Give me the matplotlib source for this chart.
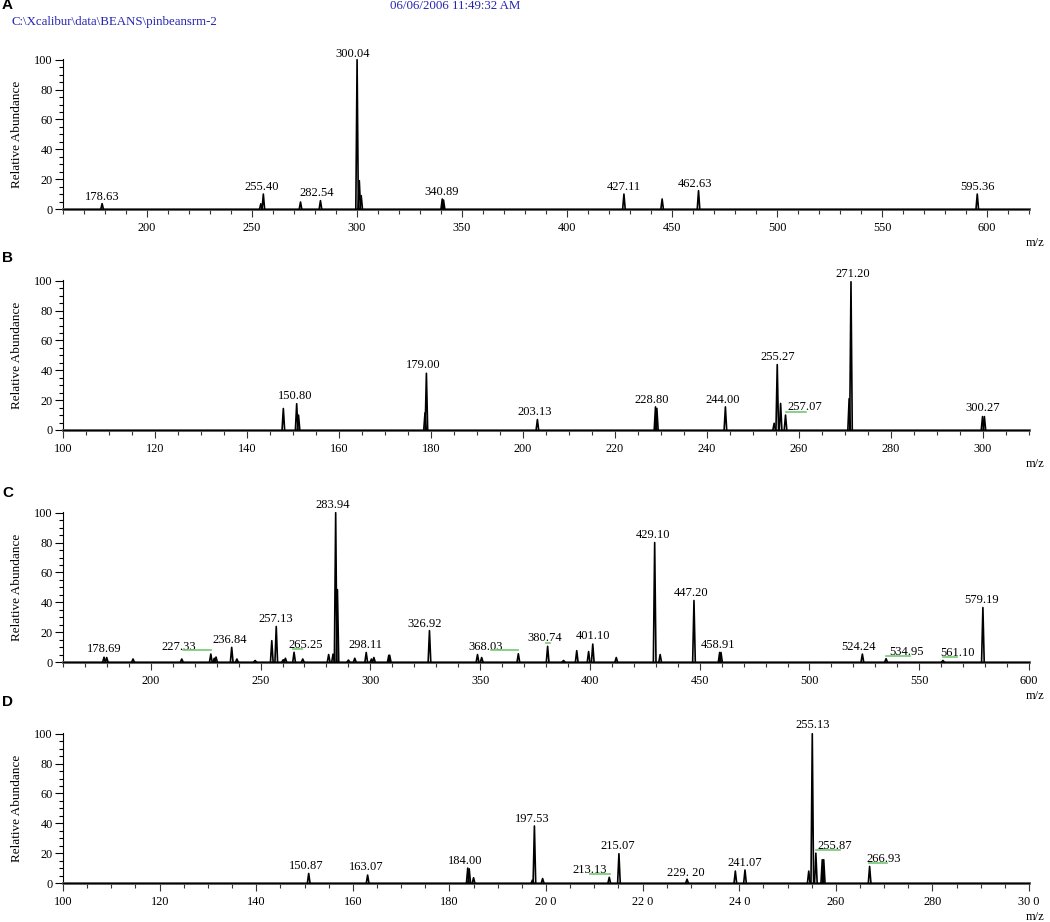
import numpy as np
import matplotlib.pyplot as plt
from matplotlib.ticker import MultipleLocator, FixedLocator

plt.rcParams['font.family'] = ['Liberation Serif', 'DejaVu Serif']

# ---------------- panel A ----------------
mz_a = [178.63, 254.2, 255.40, 273.1, 282.6, 300.04, 301.1, 302.0, 340.6, 341.2,
        427.11, 445.3, 462.63, 595.36]
int_a = [3.6, 3.5, 10.0, 4.7, 5.6, 100.0, 19.0, 9.0, 6.7, 6.0,
         10.0, 6.7, 12.3, 10.0]
lab_a = ['178.63', '255.40', '282.54', '300.04', '340.89', '427.11', '462.63', '595.36']
lab_x_a = [178.6, 254.5, 281.0, 297.8, 340.4, 427.0, 460.8, 595.3]
lab_y_a = [6.0, 13.0, 8.5, 102.0, 9.6, 12.5, 14.7, 12.5]
green_a = []

# ---------------- panel B ----------------
mz_b = [147.9, 150.8, 151.2, 178.7, 179.0, 203.13, 228.8, 229.1, 244.0, 254.6,
        255.27, 256.0, 257.07, 270.9, 271.3, 299.9, 300.3]
int_b = [14.4, 17.6, 10.0, 11.5, 38.0, 7.0, 15.5, 14.5, 15.5, 4.5,
         43.8, 17.8, 10.0, 21.0, 99.3, 9.0, 9.0]
lab_b = ['150.80', '179.00', '203.13', '228.80', '244.00', '255.27', '257.07', '271.20', '300.27']
lab_x_b = [150.4, 178.4, 202.5, 228.0, 243.4, 255.4, 261.3, 271.6, 300.0]
lab_y_b = [21.0, 41.5, 10.0, 18.4, 18.4, 46.7, 13.3, 102.7, 12.7]
green_b = [(257.2, 261.5, 12.2)]

# ---------------- panel C ----------------
mz_c = [178.69, 179.9, 191.9, 214.1, 227.33, 228.9, 229.7, 236.84, 239.2, 247.5,
        255.1, 257.13, 260.3, 261.3, 265.25, 269.2, 281.0, 283.0, 284.2, 285.0,
        290.0, 292.9, 298.11, 300.5, 301.6, 308.4, 308.8, 326.92, 348.8, 350.7,
        367.4, 380.74, 388.0, 394.0, 399.4, 401.3, 412.0, 429.5, 432.0, 447.4,
        459.1, 459.7, 524.1, 534.9, 560.8, 579.0]
int_c = [3.2, 3.0, 2.0, 2.0, 5.3, 2.5, 3.3, 9.8, 2.0, 1.0,
         14.3, 23.8, 1.5, 2.5, 6.5, 2.0, 5.0, 5.3, 100.0, 48.5,
         1.3, 2.5, 6.4, 2.0, 3.0, 4.5, 4.5, 21.0, 5.0, 3.0,
         5.5, 10.5, 1.0, 7.6, 7.0, 12.0, 3.0, 80.0, 5.0, 41.2,
         6.4, 6.4, 5.3, 2.2, 1.0, 36.5]
lab_c = ['178.69', '227.33', '236.84', '257.13', '265.25', '283.94', '298.11', '326.92',
         '368.03', '380.74', '401.10', '429.10', '447.20', '458.91', '524.24', '534.95',
         '561.10', '579.19']
lab_x_c = [178.6, 212.5, 235.7, 257.1, 270.5, 282.7, 297.6, 324.8,
           352.7, 379.3, 401.3, 428.6, 446.0, 458.4, 522.2, 544.4,
           567.5, 578.3]
lab_y_c = [6.5, 8.2, 12.7, 26.7, 9.4, 103.0, 9.4, 23.4,
           8.2, 13.8, 15.4, 82.9, 43.9, 9.4, 7.8, 4.9,
           4.2, 39.4]
green_c = [(214.6, 227.2, 7.8), (264.8, 268.9, 8.9), (354.8, 367.4, 7.8),
           (380.2, 382.0, 13.0), (534.9, 546.0, 4.2), (560.8, 567.1, 3.1)]

# ---------------- panel D ----------------
mz_d = [150.87, 163.07, 183.8, 184.1, 185.0, 197.2, 197.6, 199.3, 213.1, 215.1,
        229.2, 239.2, 241.2, 254.4, 255.13, 255.87, 257.2, 257.5, 267.0]
int_d = [6.4, 5.3, 10.0, 9.5, 3.5, 2.0, 38.2, 3.0, 3.8, 19.6,
         2.5, 8.0, 8.7, 8.0, 100.0, 20.0, 15.6, 15.6, 11.1]
lab_d = ['150.87', '163.07', '184.00', '197.53', '213.13', '215.07', '229. 20', '241.07',
         '255.13', '255.87', '266.93']
lab_x_d = [150.3, 162.7, 183.3, 197.2, 209.0, 214.9, 229.0, 241.2,
           255.2, 259.8, 270.0]
lab_y_d = [9.1, 8.7, 12.9, 40.7, 6.7, 22.7, 4.9, 11.5,
           104.0, 22.9, 14.0]
green_d = [(209.2, 213.2, 5.7), (256.0, 260.8, 22.0), (266.9, 270.6, 13.1)]

# x ticks
ticks_a = [200, 250, 300, 350, 400, 450, 500, 550, 600]
ticks_b = [100, 120, 140, 160, 180, 200, 220, 240, 260, 280, 300]
ticks_c = [200, 250, 300, 350, 400, 450, 500, 550, 600]
ticks_d = [100, 120, 140, 160, 180, 200, 220, 240, 260, 280, 300]
tlab_d = ['100', '120', '140', '160', '180', '20 0', '22 0', '24 0', '260', '280', '30 0']

panels = [
    ('A', mz_a, int_a, lab_a, lab_x_a, lab_y_a, green_a, (160, 620), ticks_a, None, 10, 0.6, 209, 5),
    ('B', mz_b, int_b, lab_b, lab_x_b, lab_y_b, green_b, (100, 310), ticks_b, None, 5, 0.28, 430, 258),
    ('C', mz_c, int_c, lab_c, lab_x_c, lab_y_c, green_c, (160, 600), ticks_c, None, 10, 0.6, 662, 493),
    ('D', mz_d, int_d, lab_d, lab_x_d, lab_y_d, green_d, (100, 300), ticks_d, tlab_d, 5, 0.27, 883, 702),
]

W, H = 1050, 922
fig = plt.figure(figsize=(W / 100, H / 100), dpi=100)
blue = '#2424b0'
fig.text(455 / W, 1 - 6 / H, '06/06/2006 11:49:32 AM', color=blue, fontsize=9.3,
         ha='center', va='center')
fig.text(12 / W, 1 - 22 / H, 'C:\\Xcalibur\\data\\BEANS\\pinbeansrm-2', color=blue,
         fontsize=9.3, ha='left', va='center')

ax_left, ax_w, ax_h = 63, 966, 150
for (name, mz, inten, labs, lx, ly, greens, xlim, ticks, tlabs, minor, hw,
     y0, ylet) in panels:
    ax = fig.add_axes([ax_left / W, 1 - y0 / H, ax_w / W, ax_h / H])
    ax.set_xlim(*xlim)
    ax.set_ylim(0, 100.5)
    ax.plot(xlim, [0, 0], color='black', lw=0.8, clip_on=False, zorder=3)
    for m, h in zip(mz, inten):
        ax.plot([m - hw, m, m + hw], [0, h, 0], color='black', lw=1.2,
                clip_on=False, zorder=3)
    for s, x, y in zip(labs, lx, ly):
        ax.text(x, y, s, ha='center', va='baseline', fontsize=9, clip_on=False)
    for x0, x1, y in greens:
        ax.plot([x0, x1], [y, y], color='#74c874', lw=1.2, zorder=4)

    for sp in ['top', 'right']:
        ax.spines[sp].set_visible(False)
    ax.spines['left'].set_linewidth(0.8)
    ax.spines['bottom'].set_linewidth(2.0)
    ax.spines['bottom'].set_color('#5a5a5a')

    ax.xaxis.set_major_locator(FixedLocator(ticks))
    if tlabs is not None:
        ax.set_xticklabels(tlabs)
    ax.xaxis.set_minor_locator(MultipleLocator(minor))
    ax.yaxis.set_major_locator(MultipleLocator(20))
    ax.yaxis.set_minor_locator(MultipleLocator(5))
    ax.tick_params(axis='x', which='major', direction='out', length=6, width=0.8,
                   labelsize=8.8, pad=3.5, color='#333333')
    ax.tick_params(axis='x', which='minor', direction='out', length=3.8, width=0.8,
                   color='#333333')
    ax.tick_params(axis='y', which='major', direction='out', length=6, width=0.8,
                   labelsize=8.8, pad=1.5)
    ax.tick_params(axis='y', which='minor', direction='out', length=3, width=0.8)

    ax.set_ylabel('Relative Abundance', fontsize=9.5)
    ax.yaxis.set_label_coords((23 - ax_left) / ax_w, 0.5)
    ax.text(1.0 + 6 / ax_w, -34 / ax_h, 'm/z', transform=ax.transAxes,
            ha='center', va='center', fontsize=9)
    fig.text(2 / W, 1 - ylet / H, name, fontsize=11, fontweight='bold',
             family='Liberation Sans', ha='left', va='center')

fig.savefig('out.png', dpi=100)
